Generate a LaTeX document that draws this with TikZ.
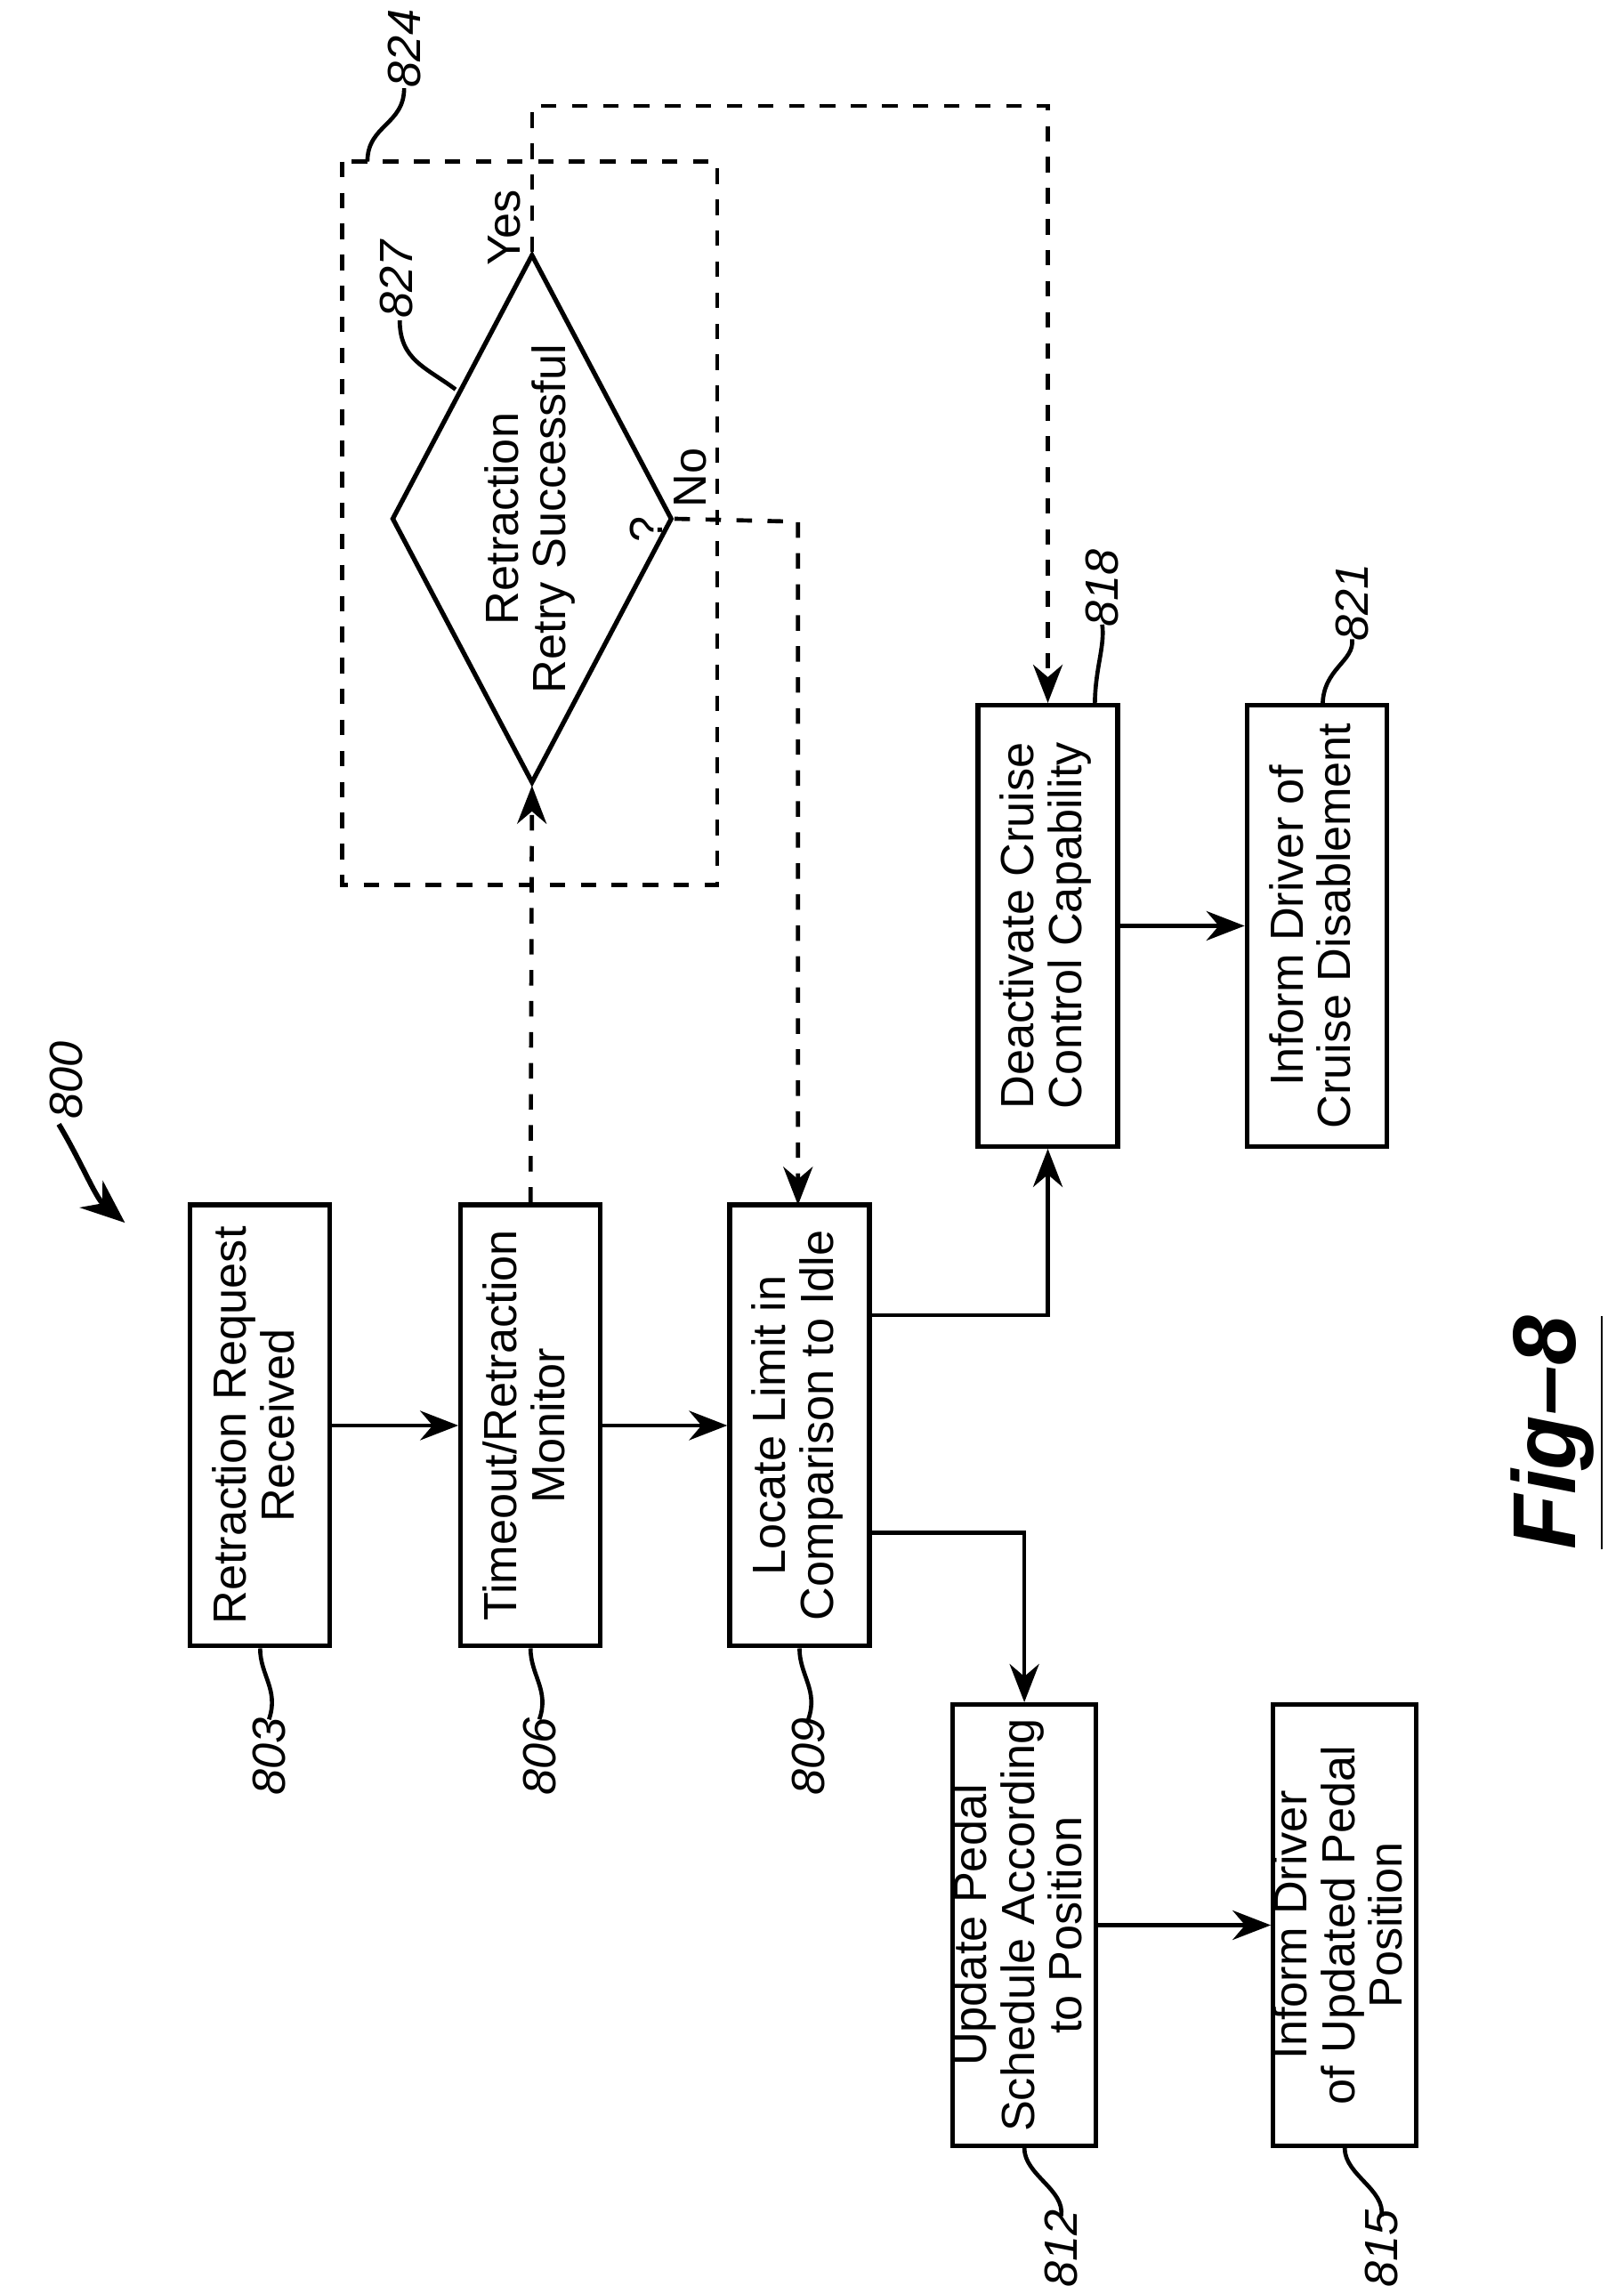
\documentclass[tikz,border=0pt]{standalone}
\usepackage{fontspec}
\setmainfont{Liberation Sans}
\usetikzlibrary{shapes.geometric,arrows.meta}
\tikzset{
  box/.style={draw, line width=0.9pt, minimum width=0.95cm, minimum height=3cm, inner sep=0pt, font=\small},
  flow/.style={-{Stealth[length=2.6mm,width=2mm]}, line width=0.8pt},
  dflow/.style={flow, dashed},
  refnum/.style={font=\small\itshape, rotate=90},
  lead/.style={line width=0.8pt}
}
\newcommand{\rtext}[1]{\rotatebox{90}{\renewcommand{\arraystretch}{0.82}\begin{tabular}{@{}c@{}}#1\end{tabular}}}
\begin{document}
\begin{tikzpicture}[x=0.01cm, y=-0.01cm]
  \useasboundingbox (0,0) rectangle (1105,1561);

  \node[box] (b803) at (177,970) {\rtext{Retraction Request\\Received}};
  \node[box] (b806) at (361,970) {\rtext{Timeout/Retraction\\Monitor}};
  \node[box] (b809) at (544,970) {\rtext{Locate Limit in\\Comparison to Idle}};
  \node[box] (b812) at (697,1310) {\rtext{Update Pedal\\Schedule According\\to Position}};
  \node[box] (b815) at (915,1310) {\rtext{Inform Driver\\of Updated Pedal\\Position}};
  \node[box] (b818) at (713,630) {\rtext{Deactivate Cruise\\Control Capability}};
  \node[box] (b821) at (896,630) {\rtext{Inform Driver of\\Cruise Disablement}};

  % dashed retry box with its decision
  \draw[dashed, line width=0.8pt] (233,110) rectangle (488,602);
  \node[draw, diamond, line width=0.9pt, minimum width=1.82cm, minimum height=3.45cm, aspect=0.53, inner sep=0pt, font=\small]
    (d827) at (362,353) {\rtext{Retraction\\Retry Successful}};
  \node[font=\small, rotate=90] (q) at (440,360) {?};
  \node[font=\small, rotate=90] (yes) at (343,155) {Yes};
  \node[font=\small, rotate=90] (no) at (470,325) {No};

  \draw[flow] (b803) -- (b806);
  \draw[flow] (b806) -- (b809);
  \draw[flow] (b809.east |- 0,895) -| (b818.south);
  \draw[flow] (b809.east |- 0,1043) -| (b812.north);
  \draw[flow] (b812) -- (b815);
  \draw[flow] (b818) -- (b821);

  \draw[dflow] (b806.north) -- (d827.south);
  \draw[dflow] (d827.north) -- (362,72) -| (b818.north);
  \draw[dflow] (d827.east) -- (543,355) -- (543,820);

  % reference numerals
  \node[refnum] (n803) at (183,1195) {803};
  \draw[lead] (b803.south) .. controls (177,1140) and (190,1150) .. (183,1170);
  \node[refnum] (n806) at (367,1195) {806};
  \draw[lead] (b806.south) .. controls (361,1140) and (374,1150) .. (367,1170);
  \node[refnum] (n809) at (550,1195) {809};
  \draw[lead] (b809.south) .. controls (544,1140) and (557,1150) .. (550,1170);
  \node[refnum] (n812) at (722,1530) {812};
  \draw[lead] (b812.south) .. controls (697,1480) and (725,1490) .. (722,1508);
  \node[refnum] (n815) at (940,1530) {815};
  \draw[lead] (b815.south) .. controls (915,1480) and (943,1490) .. (940,1508);
  \node[refnum] (n818) at (750,400) {818};
  \draw[lead] (745,480) .. controls (745,455) and (752,440) .. (750,425);
  \node[refnum] (n821) at (920,410) {821};
  \draw[lead] (900,480) .. controls (900,455) and (922,450) .. (920,435);
  \node[refnum] (n824) at (275,33) {824};
  \draw[lead] (250,110) .. controls (250,85) and (275,85) .. (275,60);
  \node[refnum] (n827) at (270,190) {827};
  \draw[lead] (310,265) .. controls (290,250) and (272,245) .. (272,218);
  \node[refnum] (n800) at (45,735) {800};
  \draw[-{Stealth[length=3mm,width=2.4mm]}, line width=1pt] (40,765) .. controls (55,790) and (65,815) .. (85,832);

  \node[rotate=90, font=\LARGE\bfseries\itshape] (fig) at (1060,975) {\underline{Fig--8}};
\end{tikzpicture}
\end{document}
